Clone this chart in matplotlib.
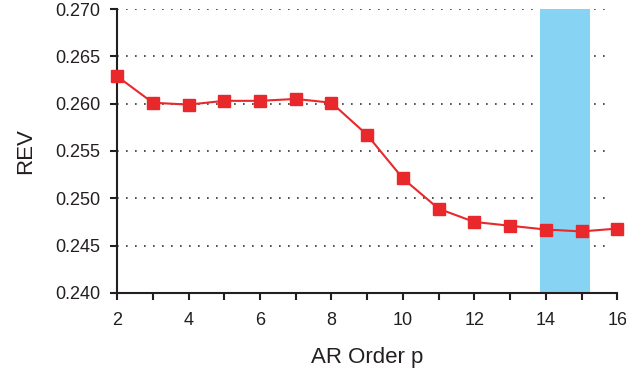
import matplotlib
matplotlib.use("Agg")
import matplotlib.pyplot as plt

plt.rcParams['font.family'] = ['Liberation Sans', 'DejaVu Sans']

orders = [2, 3, 4, 5, 6, 7, 8, 9, 10, 11, 12, 13, 14, 15, 16]
rev = [0.2629, 0.2601, 0.2599, 0.2603, 0.2603, 0.2605, 0.2601, 0.2567,
       0.2521, 0.2489, 0.2475, 0.2471, 0.2467, 0.2465, 0.2468]
band = (13.83, 15.23)
yticks = [0.240, 0.245, 0.250, 0.255, 0.260, 0.265, 0.270]
xticks = [2, 4, 6, 8, 10, 12, 14, 16]

fig = plt.figure(figsize=(6.26, 3.77), dpi=100)
ax = fig.add_axes([0.187, 0.223, 0.799, 0.753])

ax.axvspan(band[0], band[1], color='#87d3f3', lw=0, zorder=1)
for y in yticks[1:]:
    ax.axhline(y, xmin=0, xmax=0.988, color='#333333', lw=1.2,
               linestyle=(0, (1, 4.4)), zorder=0.5)
ax.plot(orders, rev, color='#e8282b', lw=1.5, marker='s', markersize=8.5,
        markeredgecolor='#e8282b', zorder=3, clip_on=False)

ax.set_xlim(2, 16)
ax.set_ylim(0.240, 0.270)
ax.set_xticks(xticks)
ax.set_xticks(orders, minor=True)
ax.set_yticks(yticks)
ax.set_yticklabels([f"{v:.3f}" for v in yticks])
ax.spines['top'].set_visible(False)
ax.spines['right'].set_visible(False)
for s in ('left', 'bottom'):
    ax.spines[s].set_linewidth(1.5)
    ax.spines[s].set_color('#231f20')
ax.tick_params(axis='both', which='both', direction='out', length=5, width=1.5,
               color='#231f20', labelsize=13, labelcolor='#231f20')
ax.tick_params(axis='x', which='both', pad=9)
ax.tick_params(axis='y', which='both', pad=7)
ax.set_xlabel('AR Order p', fontsize=16, color='#231f20', labelpad=13)
ax.set_ylabel('REV', fontsize=16, color='#231f20', labelpad=14)

fig.savefig('out.png', dpi=100)
